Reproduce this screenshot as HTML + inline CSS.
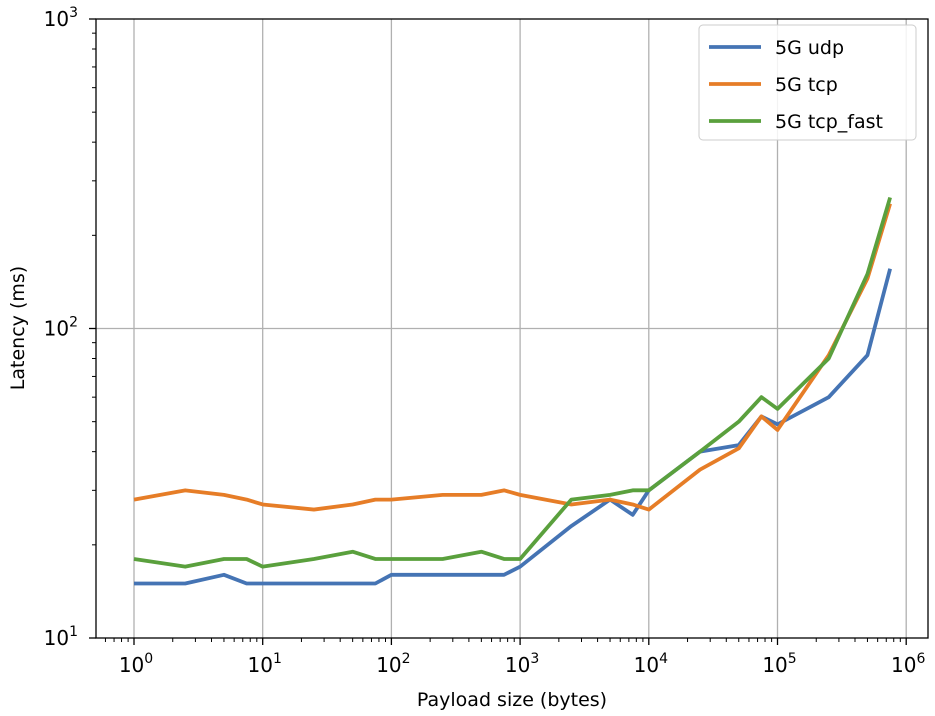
<!DOCTYPE html>
<html><head><meta charset="utf-8"><style>
body{margin:0;background:#fff;}
svg{display:block;font-family:"DejaVu Sans","Liberation Sans",sans-serif;}
</style></head><body>
<svg id="chart" width="935" height="716" viewBox="0 0 935 716">
<g id="grid"></g>
<g id="series"></g>
<rect x="96" y="19" width="832" height="619" fill="none" stroke="#000" stroke-width="1.3"/>
<g id="axes"></g>
<text x="512" y="706" font-size="19" text-anchor="middle">Payload size (bytes)</text>
<text transform="translate(24,328) rotate(-90)" font-size="19" text-anchor="middle">Latency (ms)</text>
<g id="legend">
<rect x="699" y="25" width="217" height="115" rx="4" fill="#fff" fill-opacity="0.85" stroke="#ccc"/>
</g>
</svg>
<script>
const xValues=[1,2.5,5,7.5,10,25,50,75,100,250,500,750,1000,2500,5000,7500,10000,25000,50000,75000,100000,250000,500000,750000];
const udpValues=[15,15,16,15,15,15,15,15,16,16,16,16,17,23,28,25,30,40,42,52,49,60,82,156];
const tcpValues=[28,30,29,28,27,26,27,28,28,29,29,30,29,27,28,27,26,35,41,52,47,82,145,253];
const tcpFastValues=[18,17,18,18,17,18,19,18,18,18,19,18,18,28,29,30,30,40,50,60,55,80,150,265];
const seriesNames=["5G udp","5G tcp","5G tcp_fast"];
const seriesColors=["#4574b4","#e67d27","#5aa03d"];
const xTickExps=[0,1,2,3,4,5,6];
const yTickExps=[1,2,3];
const NS="http://www.w3.org/2000/svg";
function X(v){return 134+(Math.log10(v))*128.7;}
function Y(v){return 638-(Math.log10(v)-1)*309.5;}
function mk(t,a,p){const e=document.createElementNS(NS,t);for(const k in a)e.setAttribute(k,a[k]);p.appendChild(e);return e;}
const grid=document.getElementById('grid'),axes=document.getElementById('axes');
xTickExps.forEach(e=>{const x=X(Math.pow(10,e));
const gl=mk('line',{x1:x,x2:x,y1:19,y2:638,stroke:'#b0b0b0','stroke-width':1.3},grid);


mk('line',{x1:x,x2:x,y1:638,y2:645,stroke:'#000','stroke-width':1.3},axes);
const t=mk('text',{x:x+2,y:672,'font-size':20,'text-anchor':'middle'},axes);


t.textContent='10';const s=mk('tspan',{dy:-9,'font-size':14},t);s.textContent=e;
for(let m=2;m<10&&e<6;m++){const xm=X(m*Math.pow(10,e));mk('line',{x1:xm,x2:xm,y1:638,y2:642,stroke:'#000','stroke-width':1},axes);}
});
for(let m=6;m<10;m++){const xm=X(m*0.1);mk('line',{x1:xm,x2:xm,y1:638,y2:642,stroke:'#000','stroke-width':1},axes);}
yTickExps.forEach(e=>{const y=Y(Math.pow(10,e));
if(e==2){const gl=mk('line',{x1:96,x2:928,y1:y,y2:y,stroke:'#b0b0b0','stroke-width':1.3},grid);

}
mk('line',{x1:89,x2:96,y1:y,y2:y,stroke:'#000','stroke-width':1.3},axes);
const t=mk('text',{x:78,y:y+7,'font-size':20,'text-anchor':'end'},axes);


t.textContent='10';const s=mk('tspan',{dy:-9,'font-size':14},t);s.textContent=e;
if(e<3)for(let m=2;m<10;m++){const ym=Y(m*Math.pow(10,e));mk('line',{x1:92,x2:96,y1:ym,y2:ym,stroke:'#000','stroke-width':1},axes);}
});
const sg=document.getElementById('series');
[udpValues,tcpValues,tcpFastValues].forEach((vals,i)=>{
const p=mk('polyline',{points:vals.map((v,j)=>X(xValues[j])+','+Y(v)).join(' '),fill:'none',stroke:seriesColors[i],'stroke-width':3.8,'stroke-linejoin':'round'},sg);


});
const lg=document.getElementById('legend');
seriesNames.forEach((n,i)=>{const y=47+i*37;
const l=mk('line',{x1:709,x2:761,y1:y,y2:y,stroke:seriesColors[i],'stroke-width':3.8},lg);


const t=mk('text',{x:775,y:y+7,'font-size':19},lg);


t.textContent=n;});
</script>
</body></html>
